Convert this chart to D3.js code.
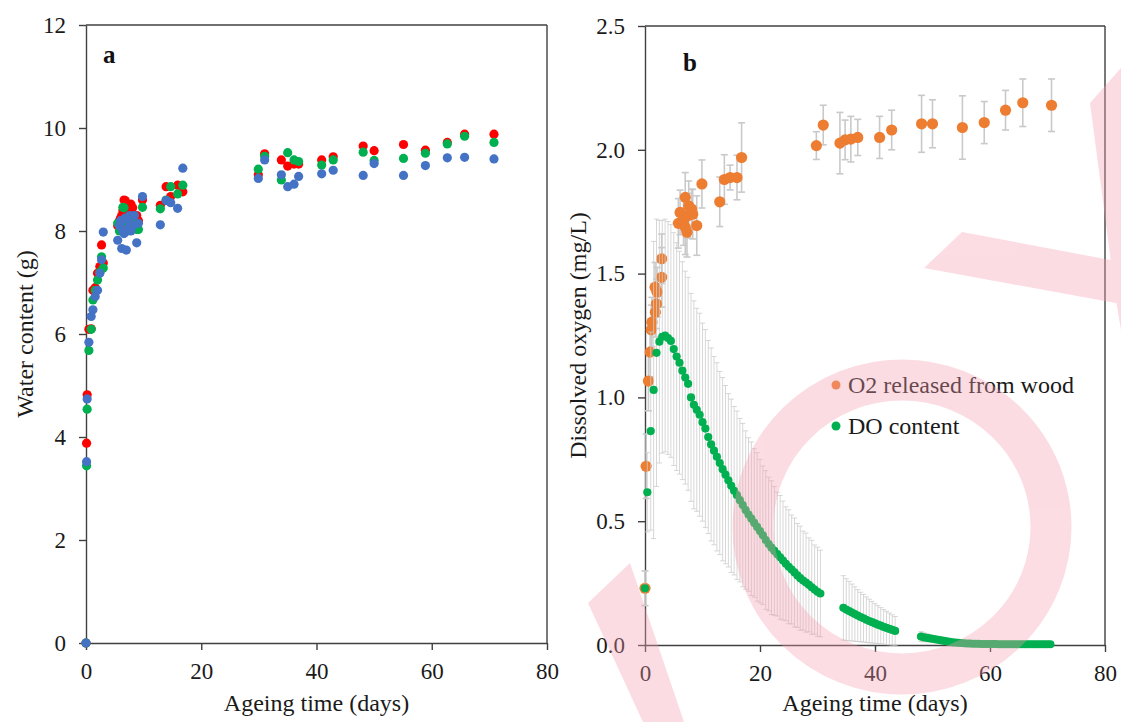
<!DOCTYPE html>
<html lang="en">
<head>
  <meta charset="UTF-8">
  <title>Water content and dissolved oxygen vs ageing time</title>
  <script src="https://d3js.org/d3.v7.min.js"></script>
  <style>
    body { margin: 0; background: #fff; }
    svg { font-family: "Liberation Serif", "Times New Roman", serif; }
    .axis path, .axis line { stroke: #404040; stroke-width: 1.4; }
    .axis text { font-size: 23px; fill: #1a1a1a; font-family: "Liberation Serif", serif; }
    .frame { stroke: #404040; stroke-width: 1.4; }
    .label { font-size: 24px; fill: #1a1a1a; }
    .panel-tag { font-size: 25px; font-weight: bold; fill: #111; }
  </style>
</head>
<body>
  <svg width="1121" height="722"></svg>

  <script>
    // ---- data ----
    const xTicks = [0, 20, 40, 60, 80];
    const waterTicks = [0, 2, 4, 6, 8, 10, 12];
    const oxygenTicks = [0, 0.5, 1.0, 1.5, 2.0, 2.5];

    // panel a: water content (g), three replicates sharing sampling times
    const waterTime = [0, 0.1, 0.2, 0.5, 0.9, 1.2, 1.6, 2.0, 2.4, 2.7, 3.0,
      5.5, 5.8, 6.0, 6.2, 6.4, 6.6, 6.8, 7.0, 7.2, 7.4, 7.6, 7.8, 8.1, 8.4, 8.8, 9.1, 9.8,
      12.9, 13.9, 14.7, 15.9, 16.8,
      29.9, 31.0, 33.9, 35.0, 36.1, 36.9, 40.9, 42.9, 48.1, 50.0, 55.1, 58.9, 62.7, 65.7, 70.8];
    const waterRed = [0, 3.88, 4.82, 6.09, 6.10, 6.85, 6.90, 7.18, 7.31, 7.73, 7.38,
      8.10, 8.20, 8.25, 8.30, 8.40, 8.60, 8.59, 8.50, 8.30, 8.35, 8.20, 8.52, 8.45, 8.28, 8.30, 8.20, 8.60,
      8.50, 8.86, 8.67, 8.89, 8.76,
      9.09, 9.50, 9.38, 9.26, 9.30, 9.30, 9.38, 9.44, 9.65, 9.56, 9.68, 9.57, 9.72, 9.88, 9.88];
    const waterGreen = [0, 3.44, 4.54, 5.68, 6.09, 6.66, 6.85, 7.05, 7.20, 7.50, 7.28,
      8.15, 8.00, 8.10, 8.20, 8.46, 8.45, 8.20, 8.10, 8.00, 8.15, 8.25, 8.20, 8.10, 8.15, 8.03, 8.03, 8.46,
      8.43, 8.60, 8.86, 8.72, 8.89,
      9.20, 9.45, 8.99, 9.52, 9.38, 9.35, 9.28, 9.38, 9.53, 9.37, 9.41, 9.51, 9.69, 9.84, 9.72];
    const waterBlue = [0, 3.52, 4.74, 5.84, 6.34, 6.47, 6.73, 6.85, 7.18, 7.44, 7.98,
      7.82, 8.10, 8.20, 7.66, 8.00, 7.95, 8.25, 7.63, 8.05, 8.20, 8.30, 8.00, 8.10, 8.30, 7.77, 8.15, 8.67,
      8.12, 8.59, 8.55, 8.44, 9.22,
      9.02, 9.38, 9.09, 8.86, 8.91, 9.06, 9.11, 9.18, 9.08, 9.31, 9.08, 9.27, 9.42, 9.43, 9.40];

    // panel b: [day, mg/L, error]
    const o2Released = [
      [0, 0.229, 0.07], [0.2, 0.722, 0.13], [0.6, 1.066, 0.12], [0.9, 1.183, 0.1],
      [1.1, 1.273, 0.1], [1.2, 1.304, 0.1], [1.8, 1.344, 0.1], [2.0, 1.378, 0.1],
      [2.1, 1.425, 0.1], [1.75, 1.445, 0.1], [2.9, 1.485, 0.12], [2.9, 1.56, 0.1],
      [5.8, 1.703, 0.1], [6.1, 1.747, 0.09], [6.7, 1.714, 0.1], [7.0, 1.808, 0.1],
      [7.0, 1.687, 0.11], [7.3, 1.667, 0.1], [7.6, 1.774, 0.1], [7.5, 1.734, 0.09],
      [8.1, 1.761, 0.08], [8.3, 1.74, 0.1], [9.0, 1.694, 0.12],
      [9.9, 1.862, 0.097], [13.0, 1.79, 0.1], [13.8, 1.88, 0.1], [14.8, 1.888, 0.05],
      [16.0, 1.888, 0.09], [16.8, 1.969, 0.14],
      [29.8, 2.017, 0.056], [31.0, 2.10, 0.08], [33.9, 2.027, 0.124], [34.8, 2.04, 0.08],
      [35.8, 2.043, 0.092], [37.0, 2.05, 0.073], [40.8, 2.05, 0.085], [42.9, 2.08, 0.08],
      [48.1, 2.105, 0.115], [50.0, 2.105, 0.097], [55.2, 2.09, 0.128], [59.0, 2.11, 0.085],
      [62.7, 2.16, 0.08], [65.7, 2.19, 0.096], [70.7, 2.18, 0.106]
    ];

    const doContent = [
      [0, 0.229, 0.07], [0.4, 0.617, 0.16], [1.0, 0.864, 0.4], [1.5, 1.03, 0.6],
      [2.0, 1.18, 0.54], [2.5, 1.225, 0.49], [3.0, 1.245, 0.47], [3.5, 1.25, 0.47],
      [4.0, 1.24, 0.47], [4.5, 1.228, 0.47], [5.0, 1.195, 0.47], [5.5, 1.165, 0.46],
      [6.0, 1.14, 0.45], [6.5, 1.108, 0.44], [7.0, 1.08, 0.43], [7.5, 1.055, 0.43],
      [8.0, 1.0, 0.42], [8.5, 0.97, 0.42], [9.0, 0.95, 0.41], [9.5, 0.93, 0.41],
      [10.0, 0.90, 0.4], [10.5, 0.874, 0.4], [11.0, 0.84, 0.39], [11.5, 0.81, 0.39],
      [12.0, 0.785, 0.38], [12.5, 0.76, 0.38], [13.0, 0.735, 0.37], [13.5, 0.71, 0.37],
      [14.0, 0.688, 0.36], [14.5, 0.665, 0.35], [15.0, 0.643, 0.35], [15.5, 0.623, 0.34],
      [16.0, 0.605, 0.34], [16.5, 0.585, 0.33], [17.0, 0.565, 0.33], [17.5, 0.545, 0.32],
      [18.0, 0.527, 0.31], [18.5, 0.51, 0.31], [19.0, 0.493, 0.3], [19.5, 0.477, 0.3],
      [20.0, 0.46, 0.29], [20.5, 0.443, 0.28], [21.0, 0.424, 0.28], [21.5, 0.408, 0.27],
      [22.0, 0.393, 0.27], [22.5, 0.38, 0.26], [23.0, 0.367, 0.25], [23.5, 0.354, 0.25],
      [24.0, 0.341, 0.24], [24.5, 0.328, 0.23], [25.0, 0.316, 0.23], [25.5, 0.305, 0.22],
      [26.0, 0.293, 0.22], [26.5, 0.281, 0.21], [27.0, 0.27, 0.21], [27.5, 0.26, 0.2],
      [28.0, 0.252, 0.2], [28.5, 0.243, 0.19], [29.0, 0.233, 0.19], [29.5, 0.224, 0.18],
      [30.0, 0.215, 0.18], [30.5, 0.208, 0.175],
      [34.5, 0.150, 0.13], [35.0, 0.143, 0.125], [35.5, 0.137, 0.12], [36.0, 0.131, 0.115],
      [36.5, 0.125, 0.11], [37.0, 0.119, 0.105], [37.5, 0.113, 0.1], [38.0, 0.108, 0.096],
      [38.5, 0.102, 0.092], [39.0, 0.097, 0.088], [39.5, 0.092, 0.084], [40.0, 0.087, 0.08],
      [40.5, 0.082, 0.077], [41.0, 0.078, 0.073], [41.5, 0.073, 0.07], [42.0, 0.069, 0.067],
      [42.5, 0.065, 0.064], [43.0, 0.061, 0.061], [43.5, 0.057, 0.058],
      [48.0, 0.034, 0.02], [48.5, 0.031, 0.018], [49.0, 0.029, 0.016], [49.5, 0.027, 0.014],
      [50.0, 0.025, 0.012], [50.5, 0.023, 0.01], [51.0, 0.021, 0.009], [51.5, 0.019, 0.008],
      [52.0, 0.017, 0.007], [52.5, 0.015, 0.006], [53.0, 0.013, 0.005], [53.5, 0.011, 0.004],
      [54.0, 0.010, 0.004], [54.5, 0.009, 0.003], [55.0, 0.008, 0.003], [55.5, 0.007, 0.003],
      [56.0, 0.006, 0.002], [56.5, 0.006, 0.002], [57.0, 0.005, 0.002], [57.5, 0.005, 0.002],
      [58.0, 0.005, 0.002], [58.5, 0.004, 0.002], [59.0, 0.004, 0.002], [59.5, 0.004, 0.002],
      [60.0, 0.004, 0.002], [60.5, 0.004, 0.002], [61.0, 0.004, 0.002], [61.5, 0.003, 0.002],
      [62.0, 0.003, 0.002], [62.5, 0.003, 0.002], [63.0, 0.003, 0.002], [63.5, 0.003, 0.002],
      [64.0, 0.003, 0.002], [64.5, 0.003, 0.002], [65.0, 0.003, 0.002], [65.5, 0.003, 0.002],
      [66.0, 0.003, 0.002], [66.5, 0.003, 0.002], [67.0, 0.003, 0.002], [67.5, 0.003, 0.002],
      [68.0, 0.003, 0.002], [68.5, 0.003, 0.002], [69.0, 0.003, 0.002], [69.5, 0.003, 0.002],
      [70.0, 0.003, 0.002], [70.5, 0.003, 0.002]
    ];

    const legendLabels = ['O2 released from wood', 'DO content'];

    // ---- drawing ----
    const svg = d3.select('svg');
    const RED = '#ff0000', GREEN = '#00b050', BLUE = '#4472c4', ORANGE = '#ed7d31';

    function makePanel(box, yDomain, yTicks, yFmt, yLabel, tag, tagPos) {
      const x = d3.scaleLinear().domain([0, 80]).range([box.left, box.right]);
      const y = d3.scaleLinear().domain(yDomain).range([box.bottom, box.top]);

      // frame top/right
      svg.append('line').attr('class', 'frame')
        .attr('x1', box.left).attr('x2', box.right).attr('y1', box.top).attr('y2', box.top);
      svg.append('line').attr('class', 'frame')
        .attr('x1', box.right).attr('x2', box.right).attr('y1', box.top).attr('y2', box.bottom);

      svg.append('g').attr('class', 'axis')
        .attr('transform', `translate(0,${box.bottom})`)
        .call(d3.axisBottom(x).tickValues(xTicks).tickSize(7).tickPadding(13).tickSizeOuter(0));
      svg.append('g').attr('class', 'axis')
        .attr('transform', `translate(${box.left},0)`)
        .call(d3.axisLeft(y).tickValues(yTicks).tickFormat(yFmt).tickSize(7).tickPadding(13).tickSizeOuter(0));

      svg.append('text').attr('class', 'label')
        .attr('x', (box.left + box.right) / 2).attr('y', 711)
        .attr('text-anchor', 'middle').text('Ageing time (days)');
      svg.append('text').attr('class', 'label')
        .attr('transform', `translate(${box.yLabelX},${(box.top + box.bottom) / 2}) rotate(-90)`)
        .attr('text-anchor', 'middle').text(yLabel);
      svg.append('text').attr('class', 'panel-tag')
        .attr('x', tagPos[0]).attr('y', tagPos[1]).text(tag);

      return { x, y };
    }

    // panel a
    const a = makePanel({ left: 86, right: 547, top: 25, bottom: 643, yLabelX: 33 },
      [0, 12], waterTicks, d3.format('d'), 'Water content (g)', 'a', [103, 63]);

    [[waterRed, RED], [waterGreen, GREEN], [waterBlue, BLUE]].forEach(([vals, col]) => {
      svg.append('g').selectAll('circle')
        .data(vals.map((v, i) => [waterTime[i], v]))
        .join('circle')
        .attr('cx', d => a.x(d[0]))
        .attr('cy', d => a.y(d[1]))
        .attr('r', 4.6)
        .attr('fill', col);
    });

    // panel b
    const b = makePanel({ left: 645, right: 1105, top: 26, bottom: 645, yLabelX: 586 },
      [0, 2.5], oxygenTicks, d3.format('.1f'), 'Dissolved oxygen (mg/L)', 'b', [683, 71]);

    function errorBars(data, col, width, cap) {
      const g = svg.append('g').attr('stroke', col).attr('stroke-width', width).attr('fill', 'none');
      const bars = g.selectAll('g').data(data).join('g');
      bars.append('line')
        .attr('x1', d => b.x(d[0])).attr('x2', d => b.x(d[0]))
        .attr('y1', d => b.y(d[1] - d[2])).attr('y2', d => b.y(d[1] + d[2]));
      bars.append('line')
        .attr('x1', d => b.x(d[0]) - cap).attr('x2', d => b.x(d[0]) + cap)
        .attr('y1', d => b.y(d[1] + d[2])).attr('y2', d => b.y(d[1] + d[2]));
      bars.append('line')
        .attr('x1', d => b.x(d[0]) - cap).attr('x2', d => b.x(d[0]) + cap)
        .attr('y1', d => b.y(d[1] - d[2])).attr('y2', d => b.y(d[1] - d[2]));
    }

    errorBars(o2Released, '#c9c9c9', 1.6, 3.5);
    svg.append('g').selectAll('circle').data(o2Released).join('circle')
      .attr('cx', d => b.x(d[0])).attr('cy', d => b.y(d[1]))
      .attr('r', 5.6).attr('fill', ORANGE);

    errorBars(doContent, '#cdcdcd', 0.8, 2.6);
    svg.append('g').selectAll('circle').data(doContent).join('circle')
      .attr('cx', d => b.x(d[0])).attr('cy', d => b.y(d[1]))
      .attr('r', 4.1).attr('fill', GREEN);

    // legend
    const legend = svg.append('g').attr('transform', 'translate(836,385)');
    legendLabels.forEach((lab, i) => {
      legend.append('circle').attr('cx', 0).attr('cy', i * 41).attr('r', 4.5)
        .attr('fill', i === 0 ? ORANGE : GREEN);
      legend.append('text').attr('class', 'label')
        .attr('x', 12).attr('y', i * 41 + 8).text(lab);
    });

    // translucent pink watermark overlay seen on the source image
    const wm = svg.append('g').attr('fill', 'rgb(246,158,175)').attr('opacity', 0.35);
    wm.append('ellipse').attr('cx', 902).attr('cy', 527).attr('rx', 149).attr('ry', 147)
      .attr('fill', 'none').attr('stroke', 'rgb(246,158,175)').attr('stroke-width', 41);
    wm.append('polygon').attr('points', '588,603 630,563 684,722 643,722');
    wm.append('polygon').attr('points', '962,232 1121,262 1121,304 924,268');
    wm.append('polygon').attr('points', '1090,103 1121,68 1121,330 1116,300');
  </script>
</body>
</html>
